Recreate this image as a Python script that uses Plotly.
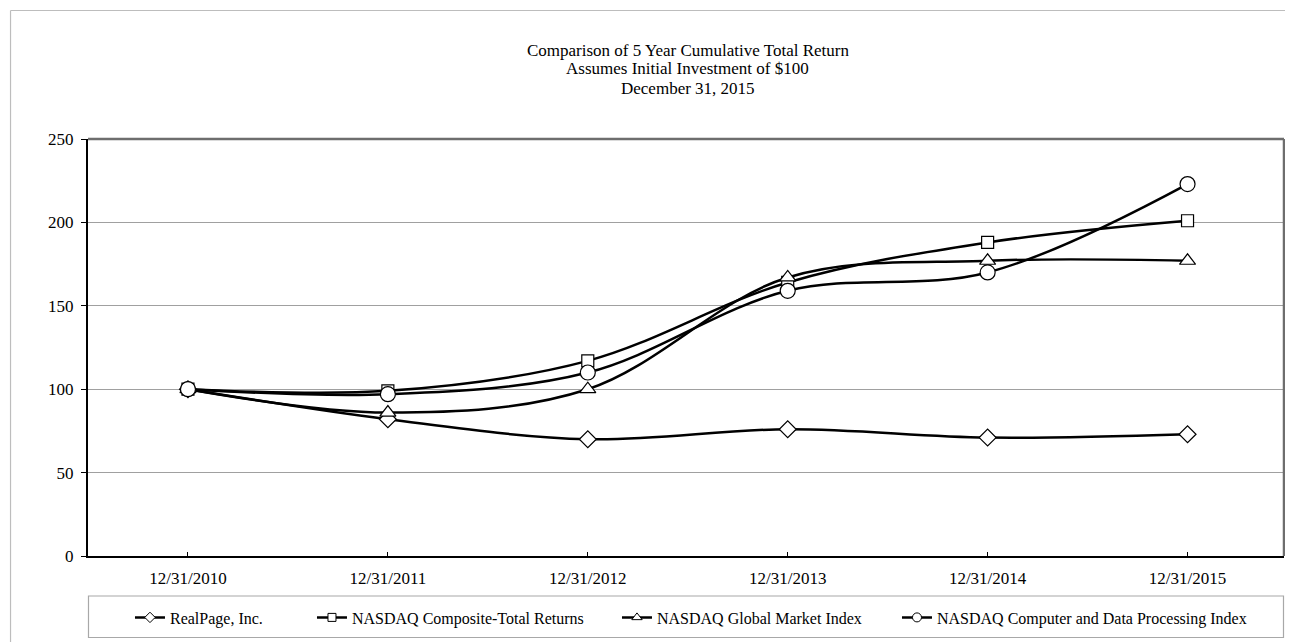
import plotly.graph_objects as go

# ---- data ----
dates = ["12/31/2010", "12/31/2011", "12/31/2012", "12/31/2013", "12/31/2014", "12/31/2015"]
realpage = [100, 82, 70, 76, 71, 73]
nasdaq_composite = [100, 99, 117, 164, 188, 201]
nasdaq_global = [100, 86, 100, 167, 177, 177]
nasdaq_computer = [100, 97, 110, 159, 170, 223]

series_names = [
    "RealPage, Inc.",
    "NASDAQ Composite-Total Returns",
    "NASDAQ Global Market Index",
    "NASDAQ Computer and Data Processing Index",
]
title_lines = [
    "Comparison of 5 Year Cumulative Total Return",
    "Assumes Initial Investment of $100",
    "December 31, 2015",
]
y_ticks = [0, 50, 100, 150, 200, 250]

# ---- layout geometry (screen pixels; the page body adds an 8px offset) ----
OFF = 8
W, H = 1293 - OFF, 642 - OFF
SCR_L, SCR_R, SCR_T, SCR_B = 88, 1284.5, 139, 556
L, R, T, B = SCR_L - OFF, SCR_R - OFF, SCR_T - OFF, SCR_B - OFF
CAT_W = 200.0  # pixel width of one category slot
X_MAX = -0.5 + (SCR_R - SCR_L) / CAT_W
FONT = "Liberation Serif"


def px_x(p):
    return (p - OFF - L) / (R - L)


def px_y(p):
    return (B - (p - OFF)) / (B - T)


series = [realpage, nasdaq_composite, nasdaq_global, nasdaq_computer]
symbols = ["diamond", "square", "triangle-up", "circle"]
sizes = [13, 12, 14, 15]
legend_sizes = [8, 8, 9, 9]
legend_widths = [137, 260, 235, 330]

fig = go.Figure()
for vals, name, sym, sz in zip(series, series_names, symbols, sizes):
    fig.add_trace(go.Scatter(
        x=dates, y=vals, name=name, mode="lines+markers",
        line=dict(color="black", width=2.5, shape="spline", smoothing=1.0),
        marker=dict(symbol=sym, size=sz, color="white",
                    line=dict(color="black", width=1.2)),
        showlegend=False, hoverinfo="skip",
    ))

# legend entries (no marks of their own)
for name, sym, sz, lw in zip(series_names, symbols, legend_sizes, legend_widths):
    fig.add_trace(go.Scatter(
        x=[None], y=[None], name=name, mode="lines+markers",
        line=dict(color="black", width=2.5),
        marker=dict(symbol=sym, size=sz, color="white",
                    line=dict(color="black", width=1)),
        showlegend=True, legendwidth=lw,
    ))

shapes = [
    # outer frame
    dict(type="line", xref="paper", yref="paper",
         x0=px_x(10.5), x1=px_x(1300), y0=px_y(10.5), y1=px_y(10.5),
         line=dict(color="#bdbdbd", width=1.2)),
    dict(type="line", xref="paper", yref="paper",
         x0=px_x(10.5), x1=px_x(10.5), y0=px_y(10.5), y1=px_y(650),
         line=dict(color="#bdbdbd", width=1.2)),
    # plot area top/right border
    dict(type="line", xref="paper", yref="paper", x0=0, x1=1, y0=1, y1=1,
         line=dict(color="#6e6e6e", width=2.5)),
    dict(type="line", xref="paper", yref="paper", x0=1, x1=1, y0=0, y1=1,
         line=dict(color="#6e6e6e", width=2.5)),
    # legend box
    dict(type="rect", xref="paper", yref="paper",
         x0=px_x(88.5), x1=px_x(1284), y0=px_y(596), y1=px_y(637.5),
         line=dict(color="#a8a8a8", width=1.2)),
]

annotations = []
for i, txt in enumerate(title_lines):
    annotations.append(dict(
        text=txt, xref="paper", yref="paper", x=px_x(688), y=px_y(50 + 19 * i),
        xanchor="center", yanchor="middle", showarrow=False,
        font=dict(family=FONT, size=17, color="black"),
    ))

fig.update_layout(
    width=W, height=H,
    margin=dict(l=L, r=W - R, t=T, b=H - B, pad=0, autoexpand=False),
    paper_bgcolor="white", plot_bgcolor="white",
    font=dict(family=FONT, size=17, color="black"),
    showlegend=True,
    legend=dict(
        orientation="h", x=px_x(130), xanchor="left",
        y=px_y(617.5), yanchor="middle",
        font=dict(family=FONT, size=16, color="black"),
        bgcolor="rgba(0,0,0,0)", borderwidth=0,
        itemclick=False, itemdoubleclick=False,
    ),
    shapes=shapes,
    annotations=annotations,
    xaxis=dict(
        type="category", categoryorder="array", categoryarray=dates,
        range=[-0.5, X_MAX],
        showline=True, linecolor="black", linewidth=2,
        ticks="inside", ticklen=4, tickcolor="black", tickwidth=1,
        showgrid=False, zeroline=False, ticklabelstandoff=6,
        tickfont=dict(family=FONT, size=17, color="black"),
        fixedrange=True,
    ),
    yaxis=dict(
        range=[0, 250], tickvals=y_ticks,
        showline=True, linecolor="black", linewidth=2,
        ticks="outside", ticklen=5, tickcolor="black", tickwidth=1,
        showgrid=True, gridcolor="#a0a0a0", gridwidth=1,
        zeroline=False, ticklabelstandoff=4,
        tickfont=dict(family=FONT, size=17, color="black"),
        fixedrange=True,
    ),
)

fig.write_html("out.html")
